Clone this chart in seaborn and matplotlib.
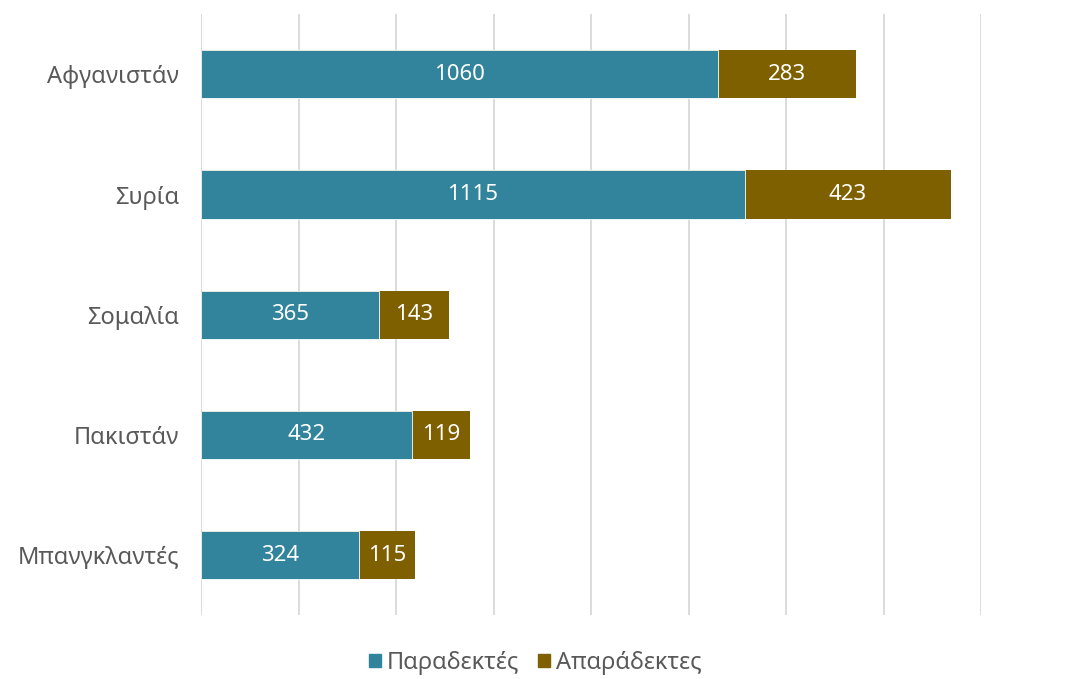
import matplotlib
matplotlib.use("Agg")
import matplotlib.pyplot as plt
from matplotlib.patches import Patch
import pandas as pd
import seaborn as sns

countries = ["Αφγανιστάν", "Συρία", "Σομαλία", "Πακιστάν", "Μπανγκλαντές"]
accepted = [1060, 1115, 365, 432, 324]
rejected = [283, 423, 143, 119, 115]
series_names = ["Παραδεκτές", "Απαράδεκτες"]

teal = "#31849B"
brown = "#7F6000"
grey = "#595959"

df = pd.DataFrame({"country": countries, "accepted": accepted, "rejected": rejected})
df["total"] = df["accepted"] + df["rejected"]

sns.set_style("white")
plt.rcParams["font.family"] = ["Noto Sans", "DejaVu Sans"]
plt.rcParams["font.weight"] = "light"

fig = plt.figure(figsize=(10.7, 6.79), dpi=100)
ax = fig.add_axes([0.188, 0.094, 0.729, 0.885])

# stacked: total first (brown), accepted on top (teal)
sns.barplot(data=df, x="total", y="country", color=brown, saturation=1,
            width=0.4, linewidth=0, ax=ax, zorder=2)
sns.barplot(data=df, x="accepted", y="country", color=teal, saturation=1,
            width=0.4, edgecolor="white", linewidth=0.6, ax=ax, zorder=3)

ax.bar_label(ax.containers[1], labels=[str(v) for v in accepted],
             label_type="center", color="white", fontsize=16)
for i, (a, r) in enumerate(zip(accepted, rejected)):
    ax.text(a + r / 2, i, str(r), ha="center", va="center",
            color="white", fontsize=16, zorder=4)

ax.set_xlim(0, 1600)
ax.set_ylim(4.5, -0.5)
ax.set_xticks(range(0, 1601, 200))
ax.set_xticklabels([])
ax.xaxis.grid(True, color="#d9d9d9", linewidth=1.3)
ax.set_axisbelow(True)
ax.set_xlabel("")
ax.set_ylabel("")
ax.tick_params(axis="y", length=0, labelsize=17, labelcolor=grey, pad=16)
ax.tick_params(axis="x", length=0)
sns.despine(ax=ax, left=True, bottom=True)

handles = [Patch(color=teal), Patch(color=brown)]
fig.legend(handles, series_names, loc="center", bbox_to_anchor=(0.5, 0.024),
           ncol=2, frameon=False, fontsize=17, labelcolor=grey,
           handlelength=0.5, handleheight=0.5, handletextpad=0.25,
           columnspacing=0.8, borderpad=0.1)

fig.savefig("out.png", dpi=100)
